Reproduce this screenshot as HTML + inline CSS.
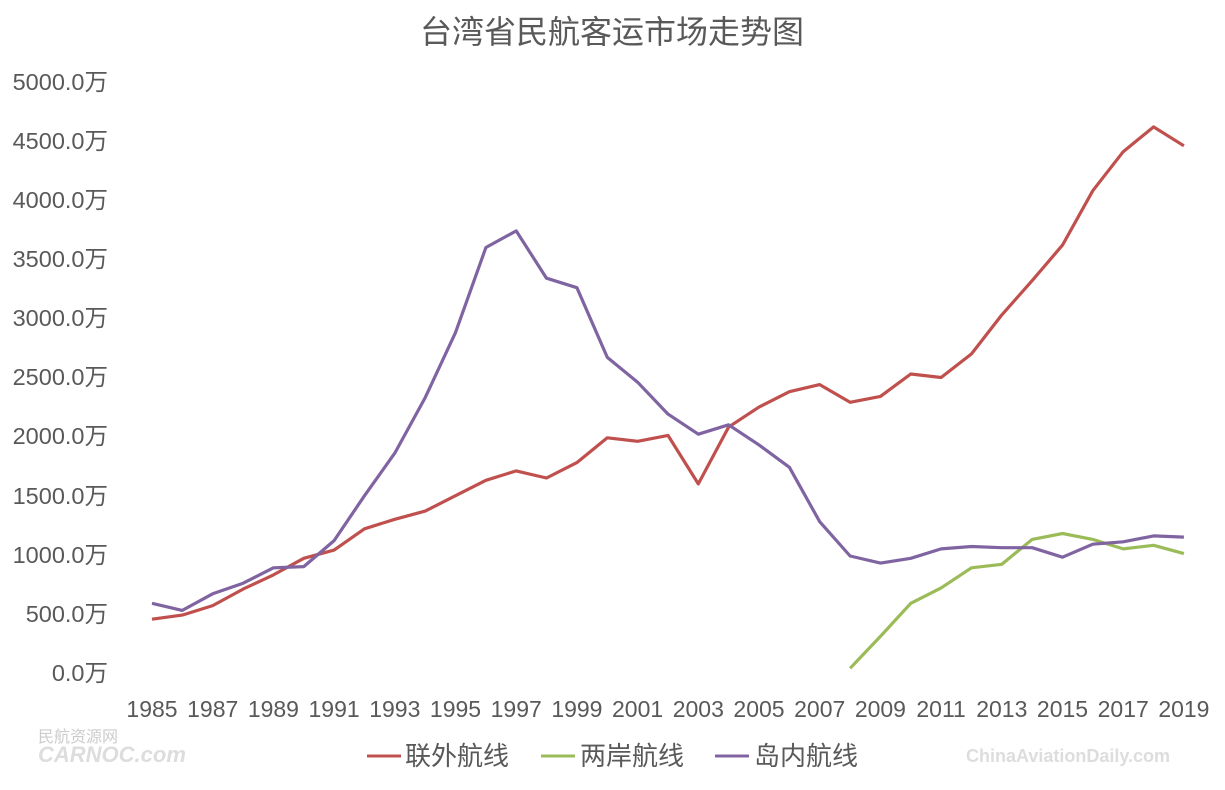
<!DOCTYPE html>
<html><head><meta charset="utf-8"><style>
body{margin:0;background:#fff;}
svg text{font-family:"Liberation Sans","Noto Sans CJK SC",sans-serif;}
</style></head><body>
<svg id="c" width="1225" height="785" xmlns="http://www.w3.org/2000/svg">
<text x="612" y="43" font-size="32" fill="#595959" text-anchor="middle">台湾省民航客运市场走势图</text>
<g font-size="23.5" fill="#595959" text-anchor="end">
<text x="108" y="90">5000.0万</text>
<text x="108" y="149">4500.0万</text>
<text x="108" y="208">4000.0万</text>
<text x="108" y="267">3500.0万</text>
<text x="108" y="326">3000.0万</text>
<text x="108" y="385">2500.0万</text>
<text x="108" y="444">2000.0万</text>
<text x="108" y="504">1500.0万</text>
<text x="108" y="563">1000.0万</text>
<text x="108" y="622">500.0万</text>
<text x="108" y="681">0.0万</text>
</g>
<g id="xl" font-size="23" fill="#595959" text-anchor="middle"></g>
<g font-size="26" fill="#595959">
<line x1="367" y1="756" x2="401" y2="756" stroke="#C0504D" stroke-width="3"/>
<text x="405" y="765">联外航线</text>
<line x1="541" y1="756" x2="575" y2="756" stroke="#9BBB59" stroke-width="3"/>
<text x="580" y="765">两岸航线</text>
<line x1="715" y1="756" x2="749" y2="756" stroke="#8064A2" stroke-width="3"/>
<text x="754" y="765">岛内航线</text>
</g>
<text x="38" y="742" font-size="16" fill="#ccc">民航资源网</text>
<text x="38" y="762" font-size="22" font-weight="bold" fill="#ddd" font-style="italic">CARNOC.com</text>
<text x="966" y="762" font-size="18" font-weight="bold" fill="#ddd">ChinaAviationDaily.com</text>
</svg>
<script>
var svg=document.getElementById('c'),ns='http://www.w3.org/2000/svg';
function X(i){return 152+i*30.35}
function Y(v){return 673-v*0.1182}
var xl=document.getElementById('xl');
for(var y=1985;y<=2019;y+=2){var t=document.createElementNS(ns,'text');t.setAttribute('x',X(y-1985));t.setAttribute('y',717);t.textContent=y;xl.appendChild(t);}
var red=[455,490,570,710,830,970,1040,1220,1300,1370,1500,1630,1710,1650,1780,1990,1960,2010,1600,2080,2250,2380,2440,2290,2340,2530,2500,2700,3030,3320,3620,4080,4410,4620,4460];
var pur=[590,530,670,760,890,900,1120,1500,1860,2330,2880,3600,3740,3340,3260,2670,2460,2190,2020,2100,1930,1740,1280,990,930,970,1050,1070,1060,1060,980,1090,1110,1160,1150];
var grn=[40,310,590,720,890,920,1130,1180,1130,1050,1080,1010];
function line(d,off,c){var p=d.map(function(v,i){return X(i+off).toFixed(1)+','+Y(v).toFixed(1)}).join(' ');
var l=document.createElementNS(ns,'polyline');l.setAttribute('points',p);l.setAttribute('fill','none');l.setAttribute('stroke',c);l.setAttribute('stroke-width','3.2');l.setAttribute('stroke-linejoin','round');svg.appendChild(l);}
line(grn,23,'#9BBB59');line(red,0,'#C0504D');line(pur,0,'#8064A2');
</script>
</body></html>
